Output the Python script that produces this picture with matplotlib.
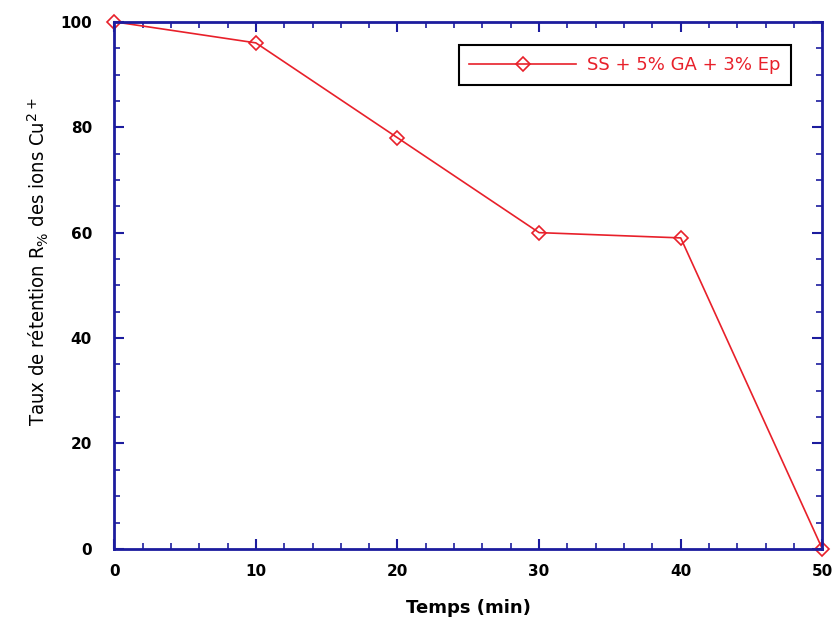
import numpy as np
import matplotlib
matplotlib.use('Agg')
import matplotlib.pyplot as plt
from matplotlib.ticker import MultipleLocator

# Données
temps = [0, 10, 20, 30, 40, 50]
retention = [100, 96, 78, 60, 59, 0]
serie = 'SS + 5% GA + 3% Ep'

bleu = '#1c1c9e'
rouge = '#e8202a'

plt.rcParams['font.family'] = ['DejaVu Sans']

fig = plt.figure(figsize=(8.34, 6.23), dpi=100)
ax = fig.add_axes([0.137, 0.119, 0.849, 0.846])

ax.plot(temps, retention, color=rouge, lw=1.2, marker='D', ms=7.5,
        mfc='none', mec=rouge, mew=1.2, label=serie, clip_on=False)

ax.set_xlim(0, 50)
ax.set_ylim(0, 100)
ax.xaxis.set_major_locator(MultipleLocator(10))
ax.xaxis.set_minor_locator(MultipleLocator(2))
ax.yaxis.set_major_locator(MultipleLocator(20))
ax.yaxis.set_minor_locator(MultipleLocator(5))

for s in ax.spines.values():
    s.set_color(bleu)
    s.set_linewidth(2)
ax.tick_params(which='both', direction='in', top=True, right=True, color=bleu)
ax.tick_params(which='major', length=7, width=1.5, labelsize=11, pad=11)
ax.tick_params(axis='y', which='major', pad=16)
ax.tick_params(which='minor', length=4, width=1.2)
for lab in ax.get_xticklabels() + ax.get_yticklabels():
    lab.set_fontweight('bold')

ax.set_xlabel('Temps (min)', fontsize=13, fontweight='bold', labelpad=14)
ax.set_ylabel('Taux de rétention R$_{\\%}$ des ions Cu$^{2+}$', fontsize=14.5,
              fontstretch='condensed')
ax.yaxis.set_label_coords(-0.09, 0.545)

leg = ax.legend(loc='upper right', bbox_to_anchor=(0.956, 0.956), borderaxespad=0,
                fontsize=13, fancybox=False, framealpha=1, handlelength=5.9,
                borderpad=0.6, handletextpad=0.6)
leg.get_frame().set_edgecolor('black')
leg.get_frame().set_linewidth(1.5)
for t in leg.get_texts():
    t.set_color(rouge)

plt.savefig('out.png', dpi=100)
plt.close()
